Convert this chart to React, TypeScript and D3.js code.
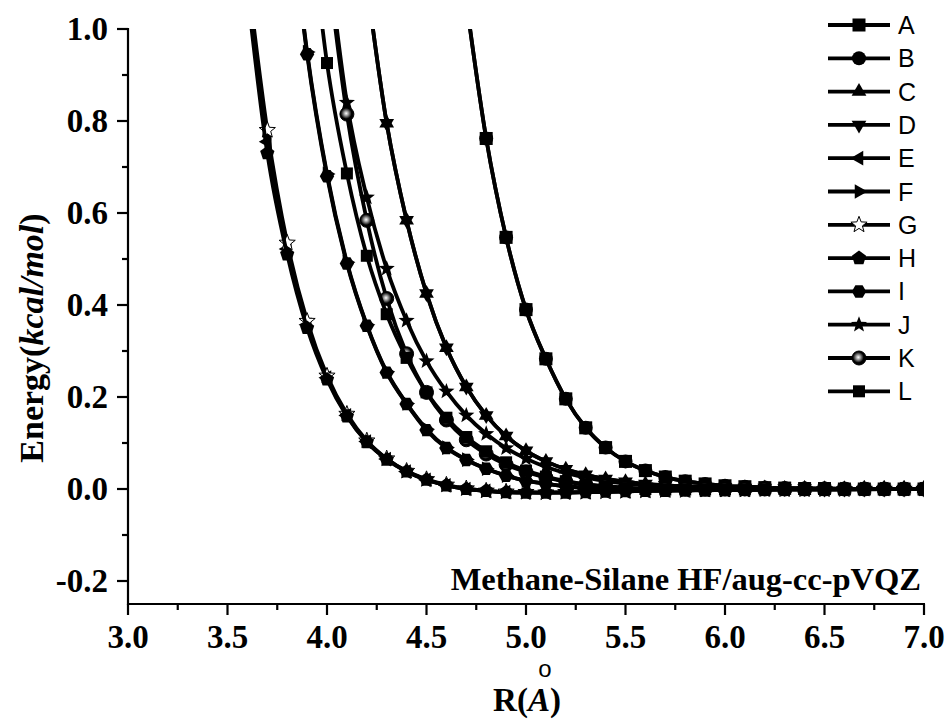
import React from "react";
import * as d3 from "d3";

// Distance grid (Å)
const R_GRID = [3.6, 3.7, 3.8, 3.9, 4.0, 4.1, 4.2, 4.3, 4.4, 4.5, 4.6, 4.7, 4.8, 4.9, 5.0, 5.1, 5.2, 5.3, 5.4, 5.5, 5.6, 5.7, 5.8, 5.9, 6.0, 6.1, 6.2, 6.3, 6.4, 6.5, 6.6, 6.7, 6.8, 6.9, 7.0];

const SERIES_NAMES = ["A", "B", "C", "D", "E", "F", "G", "H", "I", "J", "K", "L"];

const A_VALUES = [null, null, null, null, null, null, null, null, null, null, null, 1.06, 0.762, 0.547, 0.39, 0.283, 0.196, 0.133, 0.09, 0.06, 0.04, 0.026, 0.017, 0.011, 0.007, 0.005, 0.003, 0.002, 0.001, 0.001, 0.0, 0.0, 0.0, 0.0, 0.0];
const B_VALUES = [null, null, null, null, null, null, null, null, null, null, null, 1.06, 0.762, 0.547, 0.39, 0.283, 0.196, 0.133, 0.09, 0.06, 0.04, 0.026, 0.017, 0.011, 0.007, 0.005, 0.003, 0.002, 0.001, 0.001, 0.0, 0.0, 0.0, 0.0, 0.0];
const C_VALUES = [null, null, null, null, null, null, 1.1, 0.795, 0.584, 0.425, 0.307, 0.222, 0.16, 0.115, 0.083, 0.06, 0.043, 0.031, 0.022, 0.016, 0.011, 0.008, 0.006, 0.004, 0.003, 0.002, 0.002, 0.001, 0.001, 0.0, 0.0, 0.0, 0.0, 0.0, 0.0];
const D_VALUES = [null, null, null, null, null, null, 1.1, 0.795, 0.584, 0.425, 0.307, 0.222, 0.16, 0.115, 0.083, 0.06, 0.043, 0.031, 0.022, 0.016, 0.011, 0.008, 0.006, 0.004, 0.003, 0.002, 0.002, 0.001, 0.001, 0.0, 0.0, 0.0, 0.0, 0.0, 0.0];
const E_VALUES = [1.1, 0.755, 0.522, 0.357, 0.242, 0.16, 0.103, 0.065, 0.038, 0.02, 0.008, 0.0, -0.004, -0.007, -0.008, -0.008, -0.008, -0.007, -0.006, -0.005, -0.004, -0.003, -0.003, -0.002, -0.002, -0.002, -0.001, -0.001, -0.001, -0.001, -0.001, 0.0, 0.0, 0.0, 0.0];
const F_VALUES = [null, null, 1.33, 0.95, 0.685, 0.493, 0.357, 0.255, 0.186, 0.13, 0.09, 0.064, 0.044, 0.029, 0.018, 0.011, 0.006, 0.003, 0.0, -0.001, -0.002, -0.002, -0.002, -0.002, -0.002, -0.001, -0.001, -0.001, -0.001, -0.001, 0.0, 0.0, 0.0, 0.0, 0.0];
const G_VALUES = [1.12, 0.78, 0.535, 0.365, 0.246, 0.163, 0.105, 0.066, 0.039, 0.021, 0.009, 0.001, -0.004, -0.006, -0.007, -0.008, -0.007, -0.007, -0.006, -0.005, -0.004, -0.003, -0.003, -0.002, -0.002, -0.002, -0.001, -0.001, -0.001, -0.001, -0.001, 0.0, 0.0, 0.0, 0.0];
const H_VALUES = [1.08, 0.73, 0.51, 0.35, 0.238, 0.158, 0.102, 0.064, 0.038, 0.02, 0.008, 0.0, -0.004, -0.007, -0.008, -0.008, -0.008, -0.007, -0.006, -0.005, -0.004, -0.004, -0.003, -0.003, -0.002, -0.002, -0.002, -0.001, -0.001, -0.001, -0.001, -0.001, 0.0, 0.0, 0.0];
const I_VALUES = [null, null, 1.32, 0.945, 0.68, 0.49, 0.355, 0.253, 0.185, 0.128, 0.089, 0.063, 0.044, 0.029, 0.018, 0.011, 0.006, 0.002, 0.0, -0.001, -0.002, -0.002, -0.002, -0.002, -0.002, -0.001, -0.001, -0.001, -0.001, -0.001, 0.0, 0.0, 0.0, 0.0, 0.0];
const J_VALUES = [null, null, null, null, 1.18, 0.84, 0.634, 0.479, 0.366, 0.278, 0.212, 0.16, 0.12, 0.089, 0.066, 0.048, 0.035, 0.025, 0.017, 0.012, 0.008, 0.005, 0.003, 0.002, 0.001, 0.001, 0.0, 0.0, 0.0, 0.0, 0.0, 0.0, 0.0, 0.0, 0.0];
const K_VALUES = [null, null, null, null, 1.15, 0.815, 0.584, 0.414, 0.294, 0.21, 0.15, 0.107, 0.076, 0.053, 0.037, 0.025, 0.016, 0.01, 0.006, 0.003, 0.001, 0.0, 0.0, 0.0, 0.0, 0.0, 0.0, 0.0, 0.0, 0.0, 0.0, 0.0, 0.0, 0.0, 0.0];
const L_VALUES = [null, null, null, 1.3, 0.926, 0.686, 0.507, 0.38, 0.285, 0.21, 0.155, 0.113, 0.082, 0.058, 0.04, 0.027, 0.017, 0.01, 0.005, 0.002, 0.0, -0.001, -0.001, -0.001, -0.001, -0.001, -0.001, 0.0, 0.0, 0.0, 0.0, 0.0, 0.0, 0.0, 0.0];

const X_TICKS = [3.0, 3.5, 4.0, 4.5, 5.0, 5.5, 6.0, 6.5, 7.0];
const X_TICK_LABELS = ["3.0", "3.5", "4.0", "4.5", "5.0", "5.5", "6.0", "6.5", "7.0"];
const X_MINOR = [3.25, 3.75, 4.25, 4.75, 5.25, 5.75, 6.25, 6.75];
const Y_TICKS = [-0.2, 0.0, 0.2, 0.4, 0.6, 0.8, 1.0];
const Y_TICK_LABELS = ["-0.2", "0.0", "0.2", "0.4", "0.6", "0.8", "1.0"];
const Y_MINOR = [-0.1, 0.1, 0.3, 0.5, 0.7, 0.9];

const SERIES_VALUES = [A_VALUES, B_VALUES, C_VALUES, D_VALUES, E_VALUES, F_VALUES, G_VALUES, H_VALUES, I_VALUES, J_VALUES, K_VALUES, L_VALUES];
const SHAPES = ["square", "circle", "triUp", "triDown", "triLeft", "triRight", "openStar", "pentagon", "hexagon", "star", "sphere", "smallSquare"];

const W = 949;
const H = 722;
const X0 = 128, X1 = 924, Y0 = 604, Y1 = 29;

const serif = "'Liberation Serif', 'Times New Roman', serif";
const sans = "'Liberation Sans', Arial, sans-serif";

function polygon(n: number, r: number, rot: number) {
  const pts: [number, number][] = [];
  for (let i = 0; i < n; i++) {
    const a = rot + (i * 2 * Math.PI) / n;
    pts.push([r * Math.cos(a), r * Math.sin(a)]);
  }
  return "M" + pts.map((p) => p[0].toFixed(2) + "," + p[1].toFixed(2)).join("L") + "Z";
}
function starPath(ro: number, ri: number) {
  const pts: [number, number][] = [];
  for (let i = 0; i < 10; i++) {
    const a = -Math.PI / 2 + (i * Math.PI) / 5;
    const r = i % 2 === 0 ? ro : ri;
    pts.push([r * Math.cos(a), r * Math.sin(a)]);
  }
  return "M" + pts.map((p) => p[0].toFixed(2) + "," + p[1].toFixed(2)).join("L") + "Z";
}

function Marker({ shape, x, y }: { shape: string; x: number; y: number }) {
  const t = `translate(${x},${y})`;
  switch (shape) {
    case "square":
      return <rect x={x - 6.5} y={y - 6.5} width={13} height={13} fill="#000" />;
    case "smallSquare":
      return <rect x={x - 6} y={y - 6} width={12} height={12} fill="#000" />;
    case "circle":
      return <circle cx={x} cy={y} r={7} fill="#000" />;
    case "triUp":
      return <path transform={t} d={polygon(3, 8.5, -Math.PI / 2)} fill="#000" />;
    case "triDown":
      return <path transform={t} d={polygon(3, 8.5, Math.PI / 2)} fill="#000" />;
    case "triLeft":
      return <path transform={t} d={polygon(3, 8.5, Math.PI)} fill="#000" />;
    case "triRight":
      return <path transform={t} d={polygon(3, 8.5, 0)} fill="#000" />;
    case "openStar":
      return <path transform={t} d={starPath(8.5, 3.6)} fill="#fff" stroke="#000" strokeWidth={1} />;
    case "pentagon":
      return <path transform={t} d={polygon(5, 7.5, -Math.PI / 2)} fill="#000" />;
    case "hexagon":
      return <path transform={t} d={polygon(6, 7.2, 0)} fill="#000" />;
    case "star":
      return <path transform={t} d={starPath(8.5, 3.6)} fill="#000" />;
    case "sphere":
      return <circle cx={x} cy={y} r={7} fill="url(#sphereGrad)" stroke="#000" strokeWidth={1} />;
    default:
      return null;
  }
}

export default function App() {
  const x = d3.scaleLinear().domain([3, 7]).range([X0, X1]);
  const y = d3.scaleLinear().domain([-0.25, 1]).range([Y0, Y1]);

  const line = d3
    .line<[number, number | null]>()
    .defined((d) => d[1] !== null)
    .x((d) => x(d[0]))
    .y((d) => y(d[1] as number))
    .curve(d3.curveMonotoneX);

  const series = SERIES_NAMES.map((name, i) => ({
    name,
    shape: SHAPES[i],
    pts: R_GRID.map((r, j) => [r, SERIES_VALUES[i][j]] as [number, number | null]),
  }));

  const legendTop = 25;
  const legendStep = 33.3;

  return (
    <svg width={W} height={H} style={{ position: "absolute", left: 0, top: 0, background: "#fff" }}>
      <defs>
        <clipPath id="plotClip">
          <rect x={X0} y={Y1} width={X1 - X0} height={Y0 - Y1} />
        </clipPath>
        <radialGradient id="sphereGrad" cx="45%" cy="45%" r="55%">
          <stop offset="0%" stopColor="#fff" />
          <stop offset="30%" stopColor="#999" />
          <stop offset="70%" stopColor="#000" />
        </radialGradient>
      </defs>
      <rect x={0} y={0} width={W} height={H} fill="#fff" />

      {/* data */}
      <g clipPath="url(#plotClip)">
        {series.map((s) => (
          <g key={s.name}>
            <path d={line(s.pts) || ""} fill="none" stroke="#000" strokeWidth={3.8} />
            {s.pts
              .filter((p) => p[1] !== null)
              .map((p, k) => (
                <Marker key={k} shape={s.shape} x={x(p[0])} y={y(p[1] as number)} />
              ))}
          </g>
        ))}
      </g>

      {/* axes */}
      <g stroke="#000" strokeWidth={2.2} fill="none">
        <line x1={X0} x2={X0} y1={Y1 - 1} y2={Y0 + 1} />
        <line x1={X0 - 1} x2={X1 + 1} y1={Y0} y2={Y0} />
        {Y_TICKS.map((t) => (
          <line key={"yt" + t} x1={X0 - 11} x2={X0} y1={y(t)} y2={y(t)} />
        ))}
        {Y_MINOR.map((t) => (
          <line key={"ym" + t} x1={X0 - 6} x2={X0} y1={y(t)} y2={y(t)} />
        ))}
        {X_TICKS.map((t) => (
          <line key={"xt" + t} x1={x(t)} x2={x(t)} y1={Y0} y2={Y0 + 11} />
        ))}
        {X_MINOR.map((t) => (
          <line key={"xm" + t} x1={x(t)} x2={x(t)} y1={Y0} y2={Y0 + 6} />
        ))}
      </g>

      <g fontFamily={serif} fontWeight="bold" fontSize={33} fill="#000">
        {Y_TICKS.map((t, i) => (
          <text key={"yl" + t} x={108} y={y(t) + 11} textAnchor="end">
            {Y_TICK_LABELS[i]}
          </text>
        ))}
        {X_TICKS.map((t, i) => (
          <text key={"xl" + t} x={x(t)} y={648} textAnchor="middle">
            {X_TICK_LABELS[i]}
          </text>
        ))}
        <text transform="translate(43,338) rotate(-90)" textAnchor="middle" fontSize={34}>
          <tspan>Energy(</tspan>
          <tspan fontStyle="italic">kcal/mol</tspan>
          <tspan>)</tspan>
        </text>
        <text x={527} y={711} textAnchor="middle" fontSize={33}>
          <tspan>R(</tspan>
          <tspan fontStyle="italic">A</tspan>
          <tspan>)</tspan>
        </text>
        <text x={921} y={590} textAnchor="end" fontSize={32.5}>
          Methane-Silane HF/aug-cc-pVQZ
        </text>
      </g>
      <text x={545} y={677} textAnchor="middle" fontFamily={sans} fontSize={24} fill="#000">
        o
      </text>

      {/* legend */}
      <g>
        {series.map((s, i) => {
          const ly = legendTop + i * legendStep;
          return (
            <g key={"lg" + s.name}>
              <line x1={828} x2={890} y1={ly} y2={ly} stroke="#000" strokeWidth={3.8} />
              <Marker shape={s.shape} x={859} y={ly} />
              <text x={898} y={ly + 9} fontFamily={sans} fontSize={25} fill="#000">
                {s.name}
              </text>
            </g>
          );
        })}
      </g>
    </svg>
  );
}
